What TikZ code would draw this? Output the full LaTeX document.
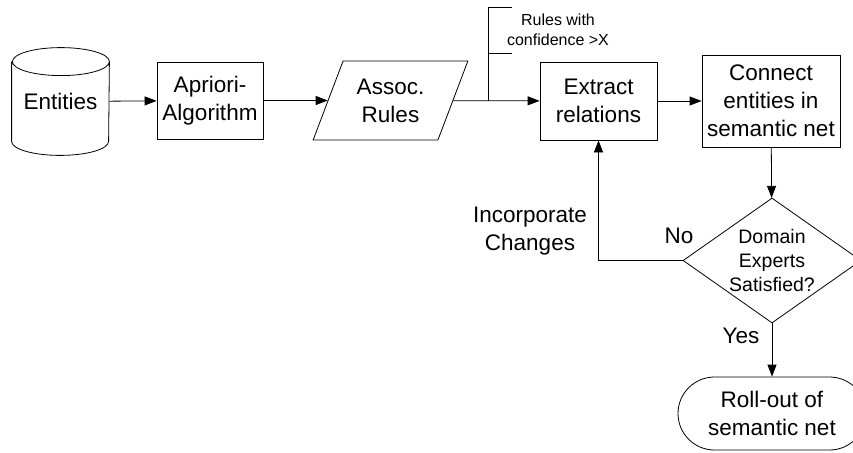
\documentclass[tikz,border=0pt]{standalone}
\usepackage{fontspec}
\setmainfont{Liberation Sans}
\usetikzlibrary{arrows.meta,shapes.geometric,shapes.misc,positioning}

\newcommand{\flowfont}{\fontsize{22.5}{28}\selectfont}
\newcommand{\askfont}{\fontsize{19.5}{24}\selectfont}
\newcommand{\notefont}{\fontsize{16}{20.5}\selectfont}

\tikzset{proc/.style={rectangle,draw,align=center,inner sep=0pt,font=\flowfont},
	store/.style={rectangle,inner sep=0pt,minimum width=97pt,minimum height=107pt,
		font=\flowfont},
	data/.style={trapezium,draw,trapezium left angle=64,trapezium right angle=116,
		trapezium stretches=true,minimum width=155pt,minimum height=79pt,
		inner sep=0pt,align=center,font=\flowfont},
	decision/.style={diamond,draw,inner sep=0pt,minimum width=178pt,minimum height=125pt},
	term/.style={rounded rectangle,draw,inner sep=0pt,minimum width=188pt,
		minimum height=73pt,align=center,font=\flowfont},
	lbl/.style={align=center,inner sep=0pt,font=\flowfont},
}

\begin{document}
\begin{tikzpicture}[x=1pt,y=-1pt,->,>={Triangle[length=12pt,width=9pt]},
		line width=0.8pt]
	\clip (0,0) rectangle (853,452);
	
	\node[store] (ent) at (60.5,101.5) {Entities};
	\draw[-] ([yshift=-14pt]ent.north west) -- ([yshift=14pt]ent.south west)
		arc[start angle=180,end angle=360,x radius=48.5pt,y radius=14pt]
		-- ([yshift=-14pt]ent.north east)
		arc[start angle=0,end angle=360,x radius=48.5pt,y radius=14pt];
	\node[proc,minimum width=106pt,minimum height=77pt] (apri) at (210,100.5) {Apriori-\\Algorithm};
	\node[data] (assoc) at (390.5,100.5) {Assoc.\\Rules};
	\node[proc,minimum width=117pt,minimum height=78pt] (extr) at (598.5,101) {Extract\\relations};
	\node[proc,minimum width=138pt,minimum height=92pt] (conn) at (771,101) {Connect\\entities in\\semantic net};
	\node[decision] (check) at (772,260.5) {};
	\node[align=center,inner sep=0pt,font=\askfont] (ask) at (check) {Domain\\Experts\\Satisfied?};
	\node[term] (roll) at (772,413.5) {Roll-out of\\semantic net};
	
	\coordinate (split) at (488,100.5);
	\coordinate (brtop) at (512,7);
	\coordinate (brmid) at (512,53);
	
	\draw (ent) -- (apri);
	\draw (apri) -- (assoc);
	\draw (assoc) -- (extr);
	\draw (extr) -- (conn);
	\draw (conn) -- (check);
	\draw (check.west) -| (extr.south);
	\draw (check) -- (roll);
	\draw[-] (split) |- (brtop);
	\draw[-] (brmid) -- (brmid -| split);
	
	\node[align=center,inner sep=0pt,font=\notefont] (rules) at (558,30) {Rules with\\confidence >X};
	\node[lbl] (incorp) at (530,231) {Incorporate\\Changes};
	\node[lbl] (no) at (679,236) {No};
	\node[lbl] (yes) at (741,336) {Yes};
\end{tikzpicture}
\end{document}
